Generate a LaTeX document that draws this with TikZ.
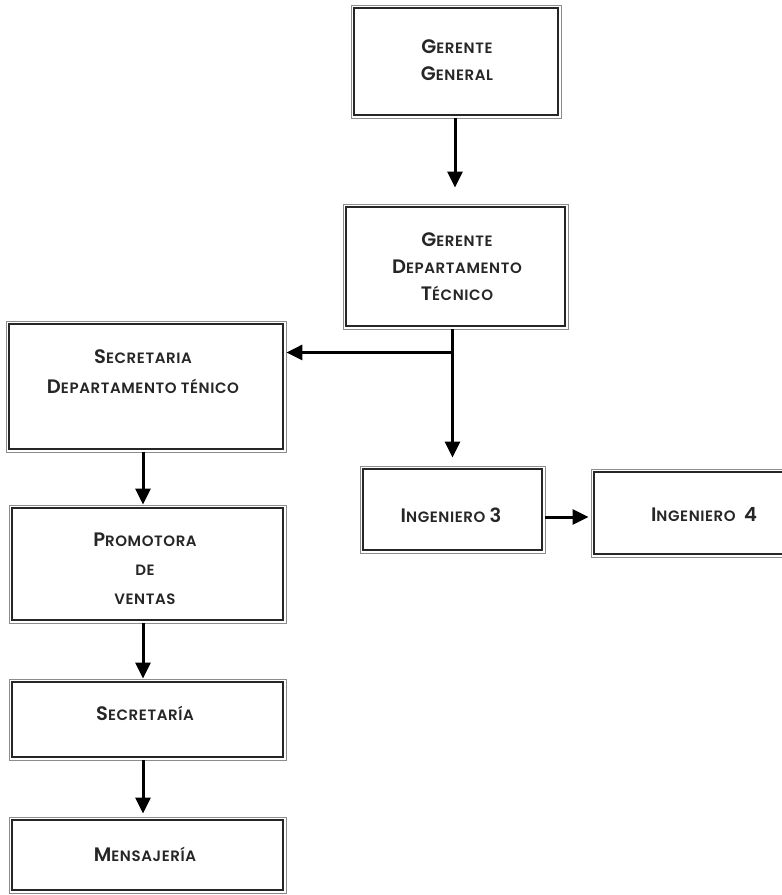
\documentclass[tikz,border=0pt]{standalone}
\usepackage{fontspec}
\setmainfont{Poppins}[BoldFont={Poppins SemiBold}, LetterSpace=4]
\usetikzlibrary{arrows.meta,calc}

% faked small capitals: a full-size initial followed by reduced capitals
\newcommand\capw[2]{{\fontsize{19.5}{20}\selectfont #1}{\fontsize{15}{20}\selectfont #2}}
\newcommand\bigch[1]{{\fontsize{19.5}{20}\selectfont #1}}

\tikzset{
  x=1pt, y=-1pt,
  orgbox/.style={draw=black!45, line width=0.9pt, rectangle, inner sep=0pt},
  orgtext/.style={font=\fontsize{15}{27}\selectfont\bfseries, align=center,
                  text=black!85, inner sep=0pt},
  innerline/.style={draw=black!85, line width=2.6pt},
  arr/.style={line width=3pt, -{Triangle[length=16pt, width=15pt]}},
}

\begin{document}
\begin{tikzpicture}
\useasboundingbox (0,0) rectangle (782,895);
\begin{scope}
\clip (0,0) rectangle (782,895);

% boxes (outer thin line)
\node[orgbox, minimum width=210, minimum height=113] (gg)   at (456,61.5) {};
\node[orgbox, minimum width=225, minimum height=125] (gdt)  at (455.5,266.5) {};
\node[orgbox, minimum width=280, minimum height=131] (sec)  at (146,386.5) {};
\node[orgbox, minimum width=185, minimum height=87]  (ing3) at (452.5,509.5) {};
\node[orgbox, minimum width=226, minimum height=88]  (ing4) at (704,513) {};
\node[orgbox, minimum width=277, minimum height=118] (prom) at (147.5,564) {};
\node[orgbox, minimum width=277, minimum height=81]  (secr) at (147.5,719.5) {};
\node[orgbox, minimum width=277, minimum height=76]  (mens) at (147.5,855) {};

% inner thick line of every box
\foreach \b in {gg,gdt,sec,ing3,ing4,prom,secr,mens}
  \draw[innerline] ([shift={(3.3,3.3)}]\b.north west) rectangle ([shift={(-3.3,-3.3)}]\b.south east);

% labels
\node[orgtext] (gg-t)   at (457,60)  {\capw{G}{ERENTE}\\\capw{G}{ENERAL}};
\node[orgtext] (gdt-t)  at (457,267) {\capw{G}{ERENTE}\\\capw{D}{EPARTAMENTO}\\\capw{T}{ÉCNICO}};
\node[orgtext, font=\fontsize{15}{30}\selectfont\bfseries] (sec-t) at (143,372)
  {\capw{S}{ECRETARIA}\\\capw{D}{EPARTAMENTO TÉNICO}};
\node[orgtext] (ing3-t) at (451,515) {\capw{I}{NGENIERO} \bigch{3}};
\node[orgtext] (ing4-t) at (704,515) {\capw{I}{NGENIERO}\ \ \bigch{4}};
\node[orgtext, font=\fontsize{15}{29}\selectfont\bfseries] (prom-t) at (145,569)
  {\capw{P}{ROMOTORA}\\DE\\VENTAS};
\node[orgtext] (secr-t) at (145,713) {\capw{S}{ECRETARÍA}};
\node[orgtext] (mens-t) at (145,854) {\capw{M}{ENSAJERÍA}};

% connectors
\coordinate (br) at ($(ing3.north |- gdt.south)+(0,23)$);
\coordinate (i3out) at ($(ing3.east)+(0,7.5)$);
\draw[arr, shorten >=16pt] ([xshift=-1pt]gg.south) -- ([xshift=-0.5pt]gdt.north);
\draw[arr, shorten >=8pt] (ing3.north |- gdt.south) -- (ing3.north);
\draw[arr] (br) -- (sec.east |- br);
\draw[arr] ([xshift=-4.5pt]prom.north |- sec.south) -- ([xshift=-4.5pt]prom.north);
\draw[arr] ([xshift=-4.5pt]secr.north |- prom.south) -- ([xshift=-4.5pt]secr.north);
\draw[arr, shorten >=3pt] ([xshift=-4.5pt]mens.north |- secr.south) -- ([xshift=-4.5pt]mens.north);
\draw[arr, shorten >=2pt] (i3out) -- (ing4.west |- i3out);
\end{scope}
\end{tikzpicture}
\end{document}
